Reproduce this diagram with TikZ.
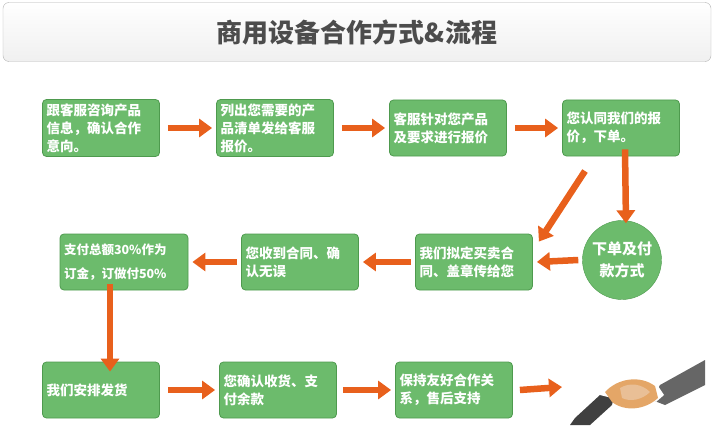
\documentclass[tikz,border=0pt]{standalone}
\usepackage{fontspec}
\setmainfont{Noto Sans CJK SC}
\usetikzlibrary{arrows.meta,shapes.geometric}
\definecolor{gf}{HTML}{6CBB6C}
\definecolor{gd}{HTML}{4E9A4E}
\definecolor{ar}{HTML}{E8601C}
\begin{document}
\begin{tikzpicture}[x=1pt,y=-1pt,
 box/.style={draw=gd,line width=0.8pt,fill=gf,rounded corners=4pt,minimum width=117pt,minimum height=56pt,text width=109pt,align=left,text=white,font=\bfseries\fontsize{13.5}{18}\selectfont,inner sep=4pt},
 arr/.style={draw=ar,line width=6.5pt,-{Triangle[length=13pt,width=18pt]}}]
\useasboundingbox (0,0) rectangle (713,428);
\node[draw=gray!60,rounded corners=6pt,top color=white,bottom color=gray!12,minimum width=708pt,minimum height=59pt] (title) at (357,32) {};
\node[text=black!70,font=\bfseries\fontsize{26}{28}\selectfont] (tt) at (357,32) {商用设备合作方式\&流程};
\node[box] (b1) at (101,128) {跟客服咨询产品\\信息，确认合作\\意向。};
\node[box] (b2) at (275,128) {列出您需要的产\\品清单发给客服\\报价。};
\node[box] (b3) at (448,128) {客服针对您产品\\及要求进行报价};
\node[box] (b4) at (621,128) {您认同我们的报\\价，下单。};
\node[circle,draw=gd,fill=gf,minimum size=76pt,text=white,align=center,font=\bfseries\fontsize{15}{22}\selectfont] (c) at (622,260) {下单及付\\款方式};
\node[box] (b5) at (474,262) {我们拟定买卖合\\同、盖章传给您};
\node[box] (b6) at (300,262) {您收到合同、确\\认无误};
\node[box,minimum width=128pt,text width=120pt,font=\bfseries\fontsize{12.5}{24}\selectfont] (b7) at (124,262) {支付总额30\%作为\\订金，订做付50\%};
\node[box] (b8) at (101,390) {我们安排发货};
\node[box] (b9) at (278,390) {您确认收货、支\\付余款};
\node[box] (b10) at (454,390) {保持友好合作关\\系，售后支持};
\coordinate (d1) at (585,171);
\coordinate (hs) at (562,387);
\draw[arr] ([xshift=8pt]b1.east) -- ([xshift=-4pt]b2.west);
\draw[arr] ([xshift=8pt]b2.east) -- ([xshift=-4pt]b3.west);
\draw[arr] ([xshift=8pt]b3.east) -- ([xshift=-4pt]b4.west);
\draw[arr] ([xshift=4pt,yshift=7pt]b4.south) -- ([xshift=4pt,yshift=-3pt]c.north);
\draw[arr] (d1) -- ([xshift=6pt,yshift=-8pt]b5.north east);
\draw[arr] ([xshift=-4pt]c.west) -- ([xshift=4pt]b5.east);
\draw[arr] ([xshift=-4pt]b5.west) -- ([xshift=4pt]b6.east);
\draw[arr] ([xshift=-4pt]b6.west) -- ([xshift=4pt]b7.east);
\draw[arr] ([xshift=-14pt,yshift=6pt]b7.south) -- ([xshift=9pt,yshift=-10pt]b8.north);
\draw[arr] ([xshift=8pt]b8.east) -- ([xshift=-4pt]b9.west);
\draw[arr] ([xshift=6pt]b9.east) -- ([xshift=-4pt]b10.west);
\draw[arr] ([xshift=7pt]b10.east) -- (hs);
% handshake
\fill[black!75] (575,418) -- (600,395) -- (615,392) -- (612,405) -- (590,425) -- (570,425) -- cycle;
\fill[black!60] (705,360) -- (660,385) -- (652,400) -- (665,405) -- (705,385) -- cycle;
\fill[white] (600,395) -- (603,388) -- (610,386) -- (616,392) -- (612,398) -- cycle;
\fill[white] (658,386) -- (664,395) -- (656,402) -- (650,398) -- cycle;
\fill[brown!60!orange!70] (605,392) .. controls (618,378) and (640,375) .. (655,386) -- (658,398) .. controls (645,410) and (625,412) .. (612,402) -- cycle;
\fill[brown!70!orange!50] (620,388) .. controls (630,382) and (642,384) .. (650,392) .. controls (642,400) and (630,402) .. (622,398) -- cycle;
\end{tikzpicture}
\end{document}
